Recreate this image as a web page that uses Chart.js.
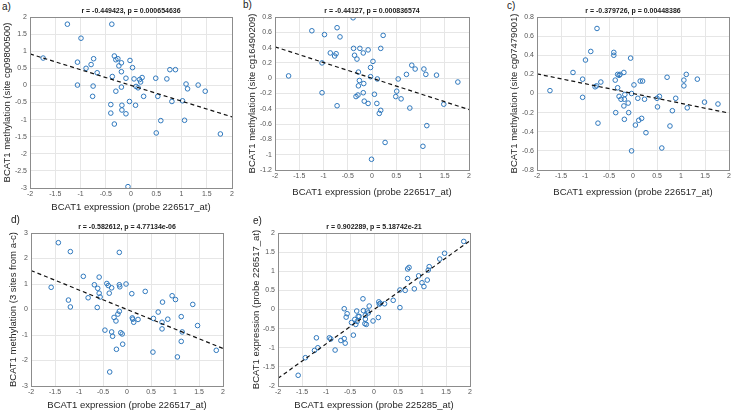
<!DOCTYPE html>
<html>
<head>
<meta charset="utf-8">
<title>BCAT1 methylation vs expression</title>
<script src="https://cdn.jsdelivr.net/npm/chart.js@4.4.1/dist/chart.umd.min.js"></script>
<style>
  body { margin: 0; background: #fff; }
  #fig { position: relative; width: 734px; height: 413px; overflow: hidden;
         font-family: "Liberation Sans", Arial, sans-serif; }
  .panel { position: absolute; }
  .tag { position: absolute; font-size: 10px; line-height: 12px; color: #222; }
</style>
</head>
<body>
<div id="fig"></div>
<script>
// Panel a) site cg09800500
const aX = [-1.74,-1.26,-0.38,-0.99,-1.06,-0.74,-0.89,-0.79,-0.67,-1.06,-0.75,-0.76,-0.33,-0.30,-0.26,-0.24,-0.19,-0.19,-0.37,-0.10,-0.02,0.03,-0.19,-0.30,-0.40,-0.40,-0.33,-0.18,-0.18,-0.10,-0.03,-0.06,0.06,0.10,0.14,0.17,0.19,0.22,0.25,0.09,0.50,0.49,0.53,0.59,0.71,0.77,0.88,0.81,1.02,1.06,1.09,1.12,1.33,1.47,1.77];
const aY = [0.80,1.79,1.79,1.38,0.68,0.78,0.50,0.61,0.37,0.01,-0.02,-0.32,0.86,0.75,0.78,0.57,0.66,0.40,0.26,0.21,0.73,0.52,-0.05,-0.17,-0.56,-0.81,-1.13,-0.58,-0.72,-0.83,-0.47,-2.96,0.19,-0.03,-0.07,0.17,0.10,0.23,-0.32,-0.58,-1.39,0.21,-0.32,-1.03,0.19,0.46,0.46,-0.47,-0.45,-1.02,0.04,-0.10,0.01,-0.17,-1.42];

// Panel b) site cg16490209
const bX = [-1.72,-1.24,-0.98,-0.72,-0.66,-0.86,-0.77,-0.74,-1.03,-1.03,-0.72,-0.39,-0.38,-0.36,-0.31,-0.25,-0.18,-0.08,-0.03,-0.28,-0.26,-0.28,-0.17,-0.18,-0.29,-0.33,-0.16,-0.08,-0.03,-0.01,0.23,0.18,0.02,0.11,0.05,0.10,0.18,0.15,0.27,0.51,0.49,0.54,0.60,0.71,0.82,0.89,0.78,1.07,1.11,1.13,1.05,1.33,1.48,1.77];
const bY = [0.03,0.62,0.57,0.66,0.54,0.33,0.29,0.32,0.20,-0.19,-0.36,0.79,0.39,0.30,0.25,0.39,0.33,0.37,0.14,0.08,-0.03,-0.10,-0.07,-0.19,-0.22,-0.24,-0.30,-0.33,0.02,-1.06,0.56,0.39,0.22,-0.01,-0.21,-0.33,-0.42,-0.46,-0.84,-0.17,-0.24,-0.01,-0.27,0.05,0.17,0.12,-0.39,0.12,0.05,-0.62,-0.89,0.04,-0.34,-0.05];

// Panel c) site cg07479001
const cX = [-1.73,-1.25,-0.99,-0.88,-0.75,-1.05,-1.05,-0.79,-0.76,-0.67,-0.73,-0.40,-0.40,-0.37,-0.32,-0.29,-0.27,-0.19,-0.05,-0.32,-0.29,-0.25,-0.18,-0.17,-0.10,-0.19,-0.36,-0.09,-0.18,-0.03,0.02,-0.03,0.05,0.10,0.12,0.18,0.15,0.20,0.24,0.27,0.50,0.51,0.55,0.60,0.71,0.77,0.82,0.89,1.06,1.06,1.11,1.13,1.34,1.49,1.77];
const cY = [0.03,0.22,0.35,0.44,0.68,0.15,-0.04,0.07,0.08,0.12,-0.31,0.43,0.40,0.14,0.20,0.19,0.20,0.22,0.37,0.06,-0.03,-0.06,-0.06,-0.01,-0.10,-0.13,-0.20,-0.20,-0.27,0.00,0.09,-0.60,-0.33,-0.05,-0.28,-0.26,0.13,0.13,-0.06,-0.41,-0.05,-0.14,-0.03,-0.57,0.17,-0.34,-0.18,-0.05,0.08,0.14,0.20,-0.15,0.15,-0.09,-0.11];

// Panel d) 3 sites combined
const dX = [-1.58,-1.43,-1.18,-1.22,-1.18,-0.91,-0.81,-0.68,-0.58,-0.61,-0.58,-0.56,-0.62,-0.42,-0.39,-0.32,-0.37,-0.16,-0.16,-0.15,-0.02,0.10,-0.16,-0.19,-0.27,-0.23,-0.46,-0.32,-0.30,-0.13,-0.10,-0.09,-0.22,-0.36,0.11,0.12,0.14,0.23,0.38,0.54,0.55,0.65,0.74,0.73,0.73,0.85,0.94,1.01,1.05,1.13,1.13,1.15,1.37,1.47,1.86];
const dY = [0.87,2.62,2.27,0.37,0.10,1.30,0.46,0.97,1.27,0.83,0.64,0.49,0.08,1.02,0.94,0.85,0.64,2.24,0.97,0.89,1.00,0.62,-0.07,-0.18,-0.31,-0.45,-0.81,-0.88,-1.05,-0.91,-0.96,-1.36,-1.56,-2.45,-0.33,-0.38,-0.50,-0.39,0.71,-1.67,-0.35,-0.10,0.29,-0.50,-0.76,-0.38,0.54,0.39,-1.86,-0.28,-1.25,-0.88,0.20,-0.63,-1.60];

// Panel e) probe 225285_at vs probe 226517_at
const eX = [-1.58,-1.43,-1.24,-1.20,-1.17,-0.93,-0.90,-0.81,-0.69,-0.62,-0.60,-0.62,-0.58,-0.56,-0.47,-0.43,-0.40,-0.38,-0.36,-0.35,-0.33,-0.31,-0.23,-0.22,-0.19,-0.18,-0.18,-0.16,-0.14,-0.12,-0.10,-0.02,0.09,0.10,0.11,0.13,0.22,0.40,0.54,0.54,0.65,0.70,0.70,0.73,0.84,0.93,1.00,1.04,1.11,1.13,1.15,1.37,1.47,1.87];
const eY = [-1.72,-1.26,-1.07,-0.74,-1.00,-0.74,-0.77,-1.06,-0.81,-0.76,-0.88,0.02,-0.20,-0.11,-0.34,-0.67,-0.26,-0.39,-0.04,-0.31,-0.18,-0.18,0.28,-0.03,-0.37,-0.25,-0.15,-0.39,-0.04,-0.09,0.09,-0.30,-0.21,0.20,0.14,0.16,0.15,0.24,0.05,0.51,0.50,0.81,1.06,1.10,0.54,0.88,0.70,0.60,0.77,1.03,1.12,1.32,1.47,1.78];

// least squares fit slopes (lines go through the origin)
const fitSlopes = [-0.46, -0.205, -0.1025, -0.765, 0.90];

// tick labels
const xTicks = [-2, -1.5, -1, -0.5, 0, 0.5, 1, 1.5, 2];
const aYTicks = [-3, -2.5, -2, -1.5, -1, -0.5, 0, 0.5, 1, 1.5, 2];
const bYTicks = [-1.2, -1, -0.8, -0.6, -0.4, -0.2, 0, 0.2, 0.4, 0.6, 0.8];
const cYTicks = [-0.8, -0.6, -0.4, -0.2, 0, 0.2, 0.4, 0.6, 0.8];
const dYTicks = [-3, -2, -1, 0, 1, 2, 3];
const eYTicks = [-2, -1.5, -1, -0.5, 0, 0.5, 1, 1.5, 2];

const tags = ['a)', 'b)', 'c)', 'd)', 'e)'];
const titles = [
    'r = -0.449423, p = 0.000654636',
    'r = -0.44127, p = 0.000836574',
    'r = -0.379726, p = 0.00448386',
    'r = -0.582612, p = 4.77134e-06',
    'r = 0.902289, p = 5.18742e-21'
];
const xLabels = [
    'BCAT1 expression (probe 226517_at)',
    'BCAT1 expression (probe 226517_at)',
    'BCAT1 expression (probe 226517_at)',
    'BCAT1 expression (probe 226517_at)',
    'BCAT1 expression (probe 225285_at)'
];
const yLabels = [
    'BCAT1 methylation (site cg09800500)',
    'BCAT1 methylation (site cg16490209)',
    'BCAT1 methylation (site cg07479001)',
    'BCAT1 methylation (3 sites from a-c)',
    'BCAT1 expression (probe 226517_at)'
];

// where each panel sits on the page
// yW = y axis box width, xH = x axis box height
const boxes = [
    { left: 0,   top: 0,   w: 240, h: 215, yW: 30, xH: 27, padTop: 17, padRight: 8,  tagX: 2,   tagY: 1 },
    { left: 245, top: 0,   w: 233, h: 200, yW: 30, xH: 30, padTop: 17, padRight: 9,  tagX: 243, tagY: -1 },
    { left: 507, top: 0,   w: 227, h: 200, yW: 30, xH: 30, padTop: 17, padRight: 2,  tagX: 507, tagY: 0 },
    { left: 6,   top: 205, w: 240, h: 208, yW: 25, xH: 27, padTop: 28, padRight: 23, tagX: 11,  tagY: 214 },
    { left: 249, top: 205, w: 231, h: 208, yW: 29, xH: 27, padTop: 28, padRight: 10, tagX: 253, tagY: 215 }
];

const FONT = '"Liberation Sans", Arial, sans-serif';
const MARKER = '#2f78bd';

// Title above the plot and the box around it
const framePlugin = {
    id: 'frame',
    afterDraw(chart) {
        const { ctx, chartArea } = chart;
        const title = chart.options.plugins.frame.title;
        ctx.save();
        ctx.strokeStyle = '#8c8c8c';
        ctx.lineWidth = 1;
        ctx.strokeRect(Math.round(chartArea.left) + 0.5, Math.round(chartArea.top) + 0.5,
            Math.round(chartArea.right - chartArea.left), Math.round(chartArea.bottom - chartArea.top));
        ctx.fillStyle = '#1a1a1a';
        ctx.font = 'bold 7px ' + FONT;
        ctx.textAlign = 'center';
        ctx.textBaseline = 'bottom';
        ctx.fillText(title, (chartArea.left + chartArea.right) / 2, chartArea.top - 2);
        ctx.restore();
    }
};

function fixTicks(values) {
    return scale => {
        scale.ticks = values.map(v => ({ value: v }));
    };
}

function buildPanel(i, xs, ys, yTicks) {
    const box = boxes[i];
    const fig = document.getElementById('fig');

    const tag = document.createElement('div');
    tag.className = 'tag';
    tag.style.left = box.tagX + 'px';
    tag.style.top = box.tagY + 'px';
    tag.textContent = tags[i];
    fig.appendChild(tag);

    const wrap = document.createElement('div');
    wrap.className = 'panel';
    wrap.style.left = box.left + 'px';
    wrap.style.top = box.top + 'px';
    wrap.style.width = box.w + 'px';
    wrap.style.height = box.h + 'px';
    const canvas = document.createElement('canvas');
    canvas.width = box.w;
    canvas.height = box.h;
    wrap.appendChild(canvas);
    fig.appendChild(wrap);

    const points = xs.map((x, k) => ({ x: x, y: ys[k] }));
    const slope = fitSlopes[i];
    const xMin = xTicks[0], xMax = xTicks[xTicks.length - 1];
    const fit = [{ x: xMin, y: slope * xMin }, { x: xMax, y: slope * xMax }];

    const tickFont = { family: FONT, size: 7 };
    const labelFont = { family: FONT, size: 9.5 };

    return new Chart(canvas, {
        type: 'scatter',
        data: {
            datasets: [
                {
                    data: fit,
                    type: 'line',
                    showLine: true,
                    borderColor: '#111',
                    borderWidth: 1.2,
                    borderDash: [4, 3],
                    pointRadius: 0,
                    order: 0
                },
                {
                    data: points,
                    pointStyle: 'circle',
                    pointRadius: 2.3,
                    pointBorderWidth: 1,
                    borderColor: MARKER,
                    backgroundColor: 'rgba(0,0,0,0)',
                    order: 1
                }
            ]
        },
        options: {
            responsive: false,
            animation: false,
            devicePixelRatio: 1,
            layout: { padding: { top: box.padTop, right: box.padRight, left: 0, bottom: 0 } },
            plugins: {
                legend: { display: false },
                tooltip: { enabled: false },
                frame: { title: titles[i] }
            },
            scales: {
                x: {
                    type: 'linear',
                    min: xMin,
                    max: xMax,
                    afterBuildTicks: fixTicks(xTicks),
                    afterFit: s => { s.height = box.xH; s.paddingLeft = 0; s.paddingRight = 0; },
                    grid: { color: '#e6e6e6', drawTicks: false },
                    border: { display: false },
                    ticks: { font: tickFont, color: '#555', padding: 2, maxRotation: 0,
                             autoSkip: false, callback: v => String(v) },
                    title: { display: true, text: xLabels[i], font: labelFont,
                             color: '#262626', padding: { top: 0, bottom: 2 } }
                },
                y: {
                    type: 'linear',
                    min: yTicks[0],
                    max: yTicks[yTicks.length - 1],
                    afterBuildTicks: fixTicks(yTicks),
                    afterFit: s => { s.width = box.yW; s.paddingTop = 0; s.paddingBottom = 0; },
                    grid: { color: '#e6e6e6', drawTicks: false },
                    border: { display: false },
                    ticks: { font: tickFont, color: '#555', padding: 3,
                             autoSkip: false, callback: v => String(v) },
                    title: { display: true, text: yLabels[i], font: labelFont,
                             color: '#262626', padding: { top: 2, bottom: 0 } }
                }
            }
        },
        plugins: [framePlugin]
    });
}

buildPanel(0, aX, aY, aYTicks);
buildPanel(1, bX, bY, bYTicks);
buildPanel(2, cX, cY, cYTicks);
buildPanel(3, dX, dY, dYTicks);
buildPanel(4, eX, eY, eYTicks);
</script>
</body>
</html>
